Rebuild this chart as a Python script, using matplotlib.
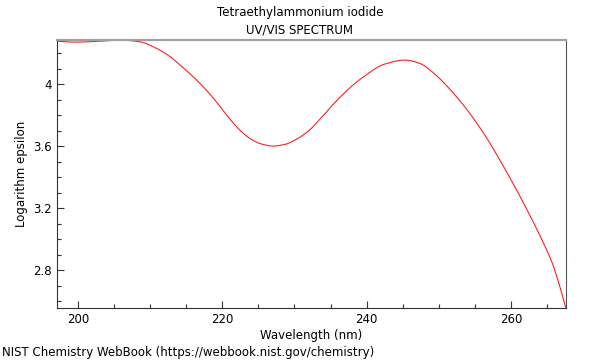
import matplotlib
matplotlib.use("Agg")
import matplotlib.pyplot as plt
from matplotlib.ticker import MultipleLocator, FuncFormatter
import numpy as np

wavelength = [197.1, 199.6, 203.0, 205.8, 208.6, 210.7, 212.7, 214.1, 215.5, 216.9,
              218.3, 219.7, 221.0, 222.4, 223.8, 225.4, 227.0, 228.6, 230.3, 232.0,
              233.5, 234.9, 236.3, 237.9, 239.5, 242.5, 245.3, 247.35, 249.2, 251.0,
              252.7, 254.3, 256.6, 258.4, 259.8, 261.6, 263.0, 264.4, 265.8, 266.7,
              267.6]
log_eps = [4.277, 4.271, 4.277, 4.284, 4.273, 4.235, 4.180, 4.125, 4.068, 4.005,
           3.935, 3.855, 3.777, 3.705, 3.650, 3.614, 3.600, 3.610, 3.645, 3.700,
           3.772, 3.845, 3.915, 3.985, 4.045, 4.129, 4.155, 4.134, 4.075, 3.994,
           3.905, 3.811, 3.655, 3.515, 3.400, 3.245, 3.118, 2.985, 2.835, 2.705,
           2.555]

x = np.array(wavelength)
y = np.array(log_eps)


def pchip(xk, yk, xq):
    h = np.diff(xk)
    delta = np.diff(yk) / h
    n = len(xk)
    d = np.zeros(n)
    for k in range(1, n - 1):
        if delta[k - 1] * delta[k] > 0:
            w1 = 2 * h[k] + h[k - 1]
            w2 = h[k] + 2 * h[k - 1]
            d[k] = (w1 + w2) / (w1 / delta[k - 1] + w2 / delta[k])
    d[0] = delta[0]
    d[-1] = delta[-1]
    idx = np.clip(np.searchsorted(xk, xq) - 1, 0, n - 2)
    t = (xq - xk[idx]) / h[idx]
    h00 = 2 * t**3 - 3 * t**2 + 1
    h10 = t**3 - 2 * t**2 + t
    h01 = -2 * t**3 + 3 * t**2
    h11 = t**3 - t**2
    return (h00 * yk[idx] + h10 * h[idx] * d[idx] + h01 * yk[idx + 1]
            + h11 * h[idx] * d[idx + 1])


xs = np.linspace(x.min(), x.max(), 800)
ys = pchip(x, y, xs)

fig = plt.figure(figsize=(6, 3.6), dpi=100)
ax = fig.add_axes([0.095, 0.1444, 0.848, 0.7446])
ax.plot(xs, ys, color="#ff2020", lw=0.8)
ax.set_xlim(x.min(), x.max())
ax.set_ylim(y.min(), 4.285)

ax.xaxis.set_major_locator(MultipleLocator(20))
ax.xaxis.set_minor_locator(MultipleLocator(5))
ax.yaxis.set_major_locator(MultipleLocator(0.4))
ax.yaxis.set_minor_locator(MultipleLocator(0.1))
ax.yaxis.set_major_formatter(FuncFormatter(lambda v, p: f"{v:g}"))
ax.tick_params(which="both", direction="in", labelsize=8.5, top=False, right=False,
               width=0.8, color="#333333")
ax.tick_params(which="major", length=5)
ax.tick_params(which="minor", length=3)

ax.spines["top"].set_color("#a0a0a0")
ax.spines["top"].set_linewidth(1.5)
ax.spines["right"].set_color("#555555")
ax.spines["left"].set_color("#333333")
ax.spines["bottom"].set_color("#333333")

ax.set_xlabel("Wavelength (nm)", fontsize=8.5, labelpad=2)
ax.set_ylabel("Logarithm epsilon", fontsize=8.5)
fig.text(0.5, 0.965, "Tetraethylammonium iodide", ha="center", va="center", fontsize=8.5)
fig.text(0.5, 0.918, "UV/VIS SPECTRUM", ha="center", va="center", fontsize=8.5)
fig.text(0.003, 0.022, "NIST Chemistry WebBook (https://webbook.nist.gov/chemistry)",
         ha="left", va="center", fontsize=8.5)

fig.savefig("out.png", dpi=100)
